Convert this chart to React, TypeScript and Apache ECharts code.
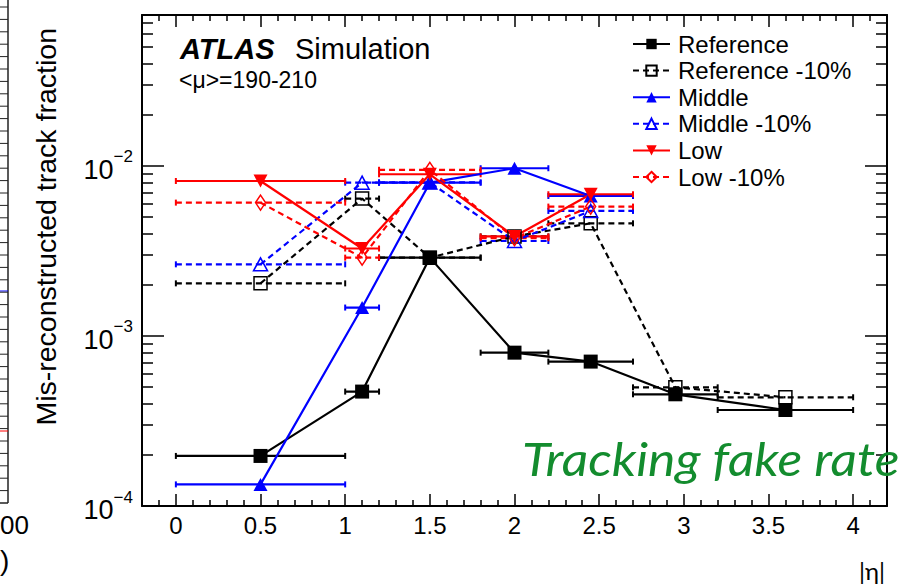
import React, { useEffect, useRef } from 'react';
import * as echarts from 'echarts';

// |eta| bins shared by all configurations
const binLow = [0, 1.0, 1.2, 1.8, 2.2, 2.7, 3.2];
const binHigh = [1.0, 1.2, 1.8, 2.2, 2.7, 3.2, 4.0];
const binMean = [0.5, 1.1, 1.5, 2.0, 2.45, 2.95, 3.6];

// Mis-reconstructed track fraction per bin
const reference = [1.97e-4, 4.71e-4, 2.89e-3, 7.98e-4, 7.07e-4, 4.54e-4, 3.67e-4];
const referenceMinus10 = [2.04e-3, 6.43e-3, 2.89e-3, 3.85e-3, 4.6e-3, 4.99e-4, 4.36e-4];
const middle = [1.34e-4, 1.47e-3, 7.98e-3, 9.7e-3, 6.66e-3];
const middleMinus10 = [2.64e-3, 7.98e-3, 8.0e-3, 3.62e-3, 5.44e-3];
const low = [8.16e-3, 3.27e-3, 8.94e-3, 3.85e-3, 6.82e-3];
const lowMinus10 = [6.09e-3, 2.89e-3, 9.5e-3, 3.76e-3, 5.77e-3];

// Axis ticks
const xMajorTicks = [0, 0.5, 1, 1.5, 2, 2.5, 3, 3.5, 4];
const xMinorTicks = [-0.1, 0.1, 0.2, 0.3, 0.4, 0.6, 0.7, 0.8, 0.9, 1.1, 1.2, 1.3, 1.4, 1.6, 1.7, 1.8, 1.9,
  2.1, 2.2, 2.3, 2.4, 2.6, 2.7, 2.8, 2.9, 3.1, 3.2, 3.3, 3.4, 3.6, 3.7, 3.8, 3.9, 4.1];
const yMajorTicks = [1e-4, 1e-3, 1e-2];
const yMinorTicks = [2e-4, 3e-4, 4e-4, 5e-4, 6e-4, 7e-4, 8e-4, 9e-4,
  2e-3, 3e-3, 4e-3, 5e-3, 6e-3, 7e-3, 8e-3, 9e-3, 2e-2, 3e-2, 4e-2, 5e-2, 6e-2, 7e-2];

const X_MIN = -0.2;
const X_MAX = 4.2;
const Y_MIN = 1e-4;
const Y_MAX = 0.0773;

const FONT = '"Liberation Sans", Arial, Helvetica, sans-serif';
const HUMANIST = 'Lato, "Open Sans", sans-serif';

const BLACK = '#000000';
const BLUE = '#0000ff';
const RED = '#ff0000';
const GREEN = '#138c2e';
const DASH = [6, 4];

const downTriangle = 'path://M0,0 L10,0 L5,9 Z';

type Curve = {
  name: string;
  values: number[];
  color: string;
  dashed: boolean;
  symbol: string;
  symbolSize: number | number[];
  hollow: boolean;
};

const curves: Curve[] = [
  { name: 'Reference', values: reference, color: BLACK, dashed: false, symbol: 'rect', symbolSize: 14, hollow: false },
  { name: 'Reference -10%', values: referenceMinus10, color: BLACK, dashed: true, symbol: 'rect', symbolSize: 13, hollow: true },
  { name: 'Middle', values: middle, color: BLUE, dashed: false, symbol: 'triangle', symbolSize: [14, 13], hollow: false },
  { name: 'Middle -10%', values: middleMinus10, color: BLUE, dashed: true, symbol: 'triangle', symbolSize: [14, 13], hollow: true },
  { name: 'Low', values: low, color: RED, dashed: false, symbol: downTriangle, symbolSize: [14, 13], hollow: false },
  { name: 'Low -10%', values: lowMinus10, color: RED, dashed: true, symbol: 'diamond', symbolSize: [10, 15], hollow: true },
];

function buildSeries() {
  const out: any[] = [];
  curves.forEach((c) => {
    const bars = c.values.map((v, i) => [binLow[i], binHigh[i], v]);
    const points = c.values.map((v, i) => [binMean[i], v]);
    out.push({
      type: 'custom',
      name: c.name + ' bins',
      coordinateSystem: 'cartesian2d',
      xAxisIndex: 0,
      yAxisIndex: 0,
      silent: true,
      data: bars,
      encode: { x: [0, 1], y: 2 },
      renderItem: (_params: any, api: any) => {
        const y = api.value(2);
        const a = api.coord([api.value(0), y]);
        const b = api.coord([api.value(1), y]);
        const dash = c.dashed ? DASH : null;
        return {
          type: 'group',
          children: [
            { type: 'line', shape: { x1: a[0], y1: a[1], x2: b[0], y2: b[1] }, style: { stroke: c.color, lineWidth: 2.2, lineDash: dash } },
            { type: 'line', shape: { x1: a[0], y1: a[1] - 3, x2: a[0], y2: a[1] + 3 }, style: { stroke: c.color, lineWidth: 2 } },
            { type: 'line', shape: { x1: b[0], y1: b[1] - 3, x2: b[0], y2: b[1] + 3 }, style: { stroke: c.color, lineWidth: 2 } },
          ],
        };
      },
    });
    out.push({
      type: 'line',
      name: c.name,
      xAxisIndex: 0,
      yAxisIndex: 0,
      silent: true,
      data: points,
      symbol: c.symbol,
      symbolSize: c.symbolSize,
      showAllSymbol: true,
      lineStyle: { color: c.color, width: 2.2, type: c.dashed ? DASH : 'solid' },
      itemStyle: {
        color: c.hollow ? 'rgba(255,255,255,0)' : c.color,
        borderColor: c.color,
        borderWidth: c.hollow ? 1.5 : 0,
      },
      emphasis: { disabled: true },
    });
  });
  return out;
}

function superscript(v: number) {
  const e = Math.round(Math.log10(v));
  return `{base|10}{exp|${e < 0 ? '\u2212' : ''}${Math.abs(e)}}`;
}

function buildOption(): any {
  const axisLineStyle = { color: BLACK, width: 2 };
  const tickStyle = { color: BLACK, width: 1.5 };

  const xAxisDef = (position: string, major: boolean, withLabels: boolean) => ({
    type: 'value',
    position,
    min: X_MIN,
    max: X_MAX,
    splitLine: { show: false },
    axisLine: { show: major, onZero: false, lineStyle: axisLineStyle },
    axisTick: {
      show: true,
      inside: true,
      length: major ? 12 : 6,
      customValues: major ? xMajorTicks : xMinorTicks,
      lineStyle: tickStyle,
    },
    axisLabel: withLabels
      ? { show: true, customValues: xMajorTicks, fontSize: 24, fontFamily: FONT, color: BLACK, margin: 7 }
      : { show: false },
  });

  const yAxisDef = (position: string, major: boolean, withLabels: boolean) => ({
    type: 'log',
    logBase: 10,
    position,
    min: Y_MIN,
    max: Y_MAX,
    splitLine: { show: false },
    minorTick: { show: false },
    axisLine: { show: major, onZero: false, lineStyle: axisLineStyle },
    axisTick: {
      show: true,
      inside: true,
      length: major ? 22 : 11,
      customValues: major ? yMajorTicks : yMinorTicks,
      lineStyle: tickStyle,
    },
    axisLabel: withLabels
      ? {
          show: true,
          customValues: yMajorTicks,
          formatter: superscript,
          margin: 9,
          rich: {
            base: { fontSize: 27, fontFamily: FONT, color: BLACK, padding: [8, 0, 0, 0] },
            exp: { fontSize: 17, fontFamily: FONT, color: BLACK, verticalAlign: 'top' },
          },
        }
      : { show: false },
  });

  // Edge of the neighbouring panel
  const neighbour: any[] = [
    { type: 'line', shape: { x1: 8, y1: 0, x2: 8, y2: 503 }, style: { stroke: '#222', lineWidth: 1.5 } },
    { type: 'line', shape: { x1: 0, y1: 503, x2: 8, y2: 503 }, style: { stroke: '#222', lineWidth: 1.5 } },
    { type: 'line', shape: { x1: 0, y1: 291, x2: 8, y2: 291 }, style: { stroke: BLUE, lineWidth: 1 } },
    { type: 'line', shape: { x1: 0, y1: 431, x2: 8, y2: 431 }, style: { stroke: RED, lineWidth: 1 } },
    { type: 'text', x: 0, y: 525, style: { text: '00', font: `26px ${FONT}`, fill: BLACK, textAlign: 'left', textVerticalAlign: 'middle' } },
    { type: 'text', x: 0, y: 560, style: { text: ')', font: `28px ${FONT}`, fill: BLACK, textAlign: 'left', textVerticalAlign: 'middle' } },
  ];
  for (let y = 7; y < 500; y += 12.4) {
    neighbour.push({ type: 'line', shape: { x1: 0, y1: y, x2: 8, y2: y }, style: { stroke: '#222', lineWidth: 1 } });
  }

  return {
    animation: false,
    backgroundColor: '#ffffff',
    grid: { left: 142, right: 19, top: 15, bottom: 80, containLabel: false },
    xAxis: [
      xAxisDef('bottom', true, true),
      xAxisDef('bottom', false, false),
      xAxisDef('top', true, false),
      xAxisDef('top', false, false),
    ],
    yAxis: [
      yAxisDef('left', true, true),
      yAxisDef('left', false, false),
      yAxisDef('right', true, false),
      yAxisDef('right', false, false),
    ],
    legend: {
      orient: 'vertical',
      left: 632,
      top: 31,
      padding: 0,
      itemGap: 0.6,
      itemWidth: 37,
      itemHeight: 13,
      selectedMode: false,
      data: curves.map((c) => c.name),
      textStyle: { fontSize: 24, fontFamily: FONT, color: BLACK, lineHeight: 26, padding: [0, 0, 0, 3] },
    },
    series: buildSeries(),
    graphic: [
      ...neighbour,
      { type: 'text', x: 180, y: 49, style: { text: 'ATLAS', font: `italic bold 29px ${FONT}`, fill: BLACK, textAlign: 'left', textVerticalAlign: 'middle' } },
      { type: 'text', x: 295, y: 49, style: { text: 'Simulation', font: `29px ${FONT}`, fill: BLACK, textAlign: 'left', textVerticalAlign: 'middle' } },
      { type: 'text', x: 179, y: 80, style: { text: '<\u03bc>=190-210', font: `23px ${FONT}`, fill: BLACK, textAlign: 'left', textVerticalAlign: 'middle' } },
      {
        type: 'text',
        x: 46,
        y: 28,
        rotation: Math.PI / 2,
        style: { text: 'Mis-reconstructed track fraction', font: `28.5px ${FONT}`, fill: BLACK, textAlign: 'right', textVerticalAlign: 'middle' },
      },
      { type: 'text', x: 872, y: 570, style: { text: '|\u03b7|', font: `24px ${HUMANIST}`, fill: BLACK, textAlign: 'center', textVerticalAlign: 'middle' } },
      {
        type: 'text',
        x: 522,
        y: 458,
        scaleX: 1.1,
        z: 10,
        style: { text: 'Tracking fake rate', font: `italic 47px ${HUMANIST}`, fill: GREEN, textAlign: 'left', textVerticalAlign: 'middle' },
      },
    ],
  };
}

export default function App() {
  const ref = useRef<HTMLDivElement>(null);
  useEffect(() => {
    if (!ref.current) return;
    const chart = echarts.init(ref.current, undefined, { renderer: 'svg' });
    chart.setOption(buildOption());
    return () => chart.dispose();
  }, []);
  return (
    <div
      ref={ref}
      style={{ position: 'fixed', left: 0, top: 0, width: 906, height: 586, background: '#ffffff' }}
    />
  );
}
